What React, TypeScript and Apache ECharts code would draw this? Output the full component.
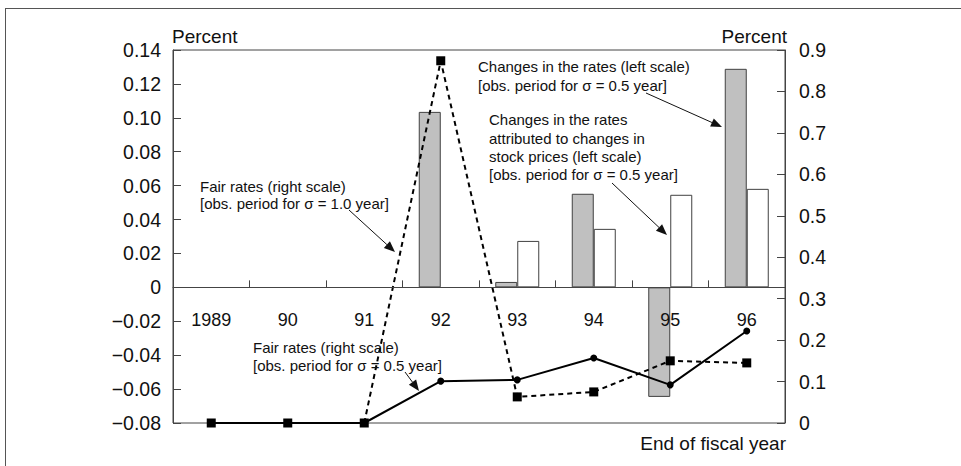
import React, { useEffect, useRef } from "react";
import * as echarts from "echarts";

const categories = ["1989", "90", "91", "92", "93", "94", "95", "96"];
// Left scale (percent)
const changesInRates = [null, null, null, 0.1035, 0.0032, 0.0552, -0.0646, 0.1289];
const changesStockPrices = [null, null, null, null, 0.0274, 0.0345, 0.0546, 0.0581];
// Right scale (percent)
const fairRatesHalfYear = [0, 0, 0, 0.101, 0.104, 0.157, 0.092, 0.222];
const fairRatesOneYear = [0, 0, 0, 0.874, 0.063, 0.075, 0.15, 0.145];

const LEFT_MIN = -0.08;
const LEFT_MAX = 0.14;

const FONT = "'Liberation Sans', Arial, sans-serif";
const INK = "#111";
const AXIS = "#444";

const GRID_TOP = 50;
const GRID_BOTTOM = 43;
const CHART_H = 466;

function arrow(x1: number, y1: number, x2: number, y2: number) {
  const dx = x2 - x1;
  const dy = y2 - y1;
  const len = Math.sqrt(dx * dx + dy * dy);
  const ux = dx / len;
  const uy = dy / len;
  const hl = 11;
  const hw = 4.5;
  const bx = x2 - ux * hl;
  const by = y2 - uy * hl;
  return [
    {
      type: "line",
      shape: { x1, y1, x2: bx, y2: by },
      style: { stroke: INK, lineWidth: 1 },
      z: 10,
    },
    {
      type: "polygon",
      shape: {
        points: [
          [x2, y2],
          [bx - uy * hw, by + ux * hw],
          [bx + uy * hw, by - ux * hw],
        ],
      },
      style: { fill: INK },
      z: 10,
    },
  ];
}

function note(x: number, yFirstCenter: number, lines: string[], lh = 18.3) {
  return {
    type: "text",
    x,
    y: yFirstCenter - lh / 2,
    z: 10,
    style: {
      text: lines.join("\n"),
      font: `15px ${FONT}`,
      fill: INK,
      lineHeight: lh,
      verticalAlign: "top",
      align: "left",
    },
  };
}

function fmtLeft(v: number) {
  const r = Math.round(v * 100) / 100;
  if (Math.abs(r) < 1e-9) return "0";
  return (r < 0 ? "\u2212" : "") + Math.abs(r).toFixed(2);
}

function fmtRight(v: number) {
  const r = Math.round(v * 10) / 10;
  if (Math.abs(r) < 1e-9) return "0";
  return r.toFixed(1);
}

export default function App() {
  const ref = useRef<HTMLDivElement>(null);

  useEffect(() => {
    document.body.style.margin = "0";
    if (!ref.current) return;
    const chart = echarts.init(ref.current, null, { renderer: "svg" });
    const toData = (a: (number | null)[]) => a.map((v) => (v === null ? "-" : v));

    const plotH = CHART_H - GRID_TOP - GRID_BOTTOM;
    const zeroFromBottom = (plotH * (0 - LEFT_MIN)) / (LEFT_MAX - LEFT_MIN);

    chart.setOption({
      animation: false,
      backgroundColor: "#fff",
      textStyle: { fontFamily: FONT },
      grid: {
        left: 173,
        right: 176,
        top: GRID_TOP,
        bottom: GRID_BOTTOM,
        show: true,
        borderColor: AXIS,
        borderWidth: 1,
        backgroundColor: "transparent",
      },
      xAxis: {
        type: "category",
        data: categories,
        z: 5,
        position: "bottom",
        offset: -zeroFromBottom,
        axisLine: { onZero: false, lineStyle: { color: AXIS, width: 1 } },
        axisTick: { show: true, inside: true, length: 7, alignWithLabel: false, lineStyle: { color: AXIS } },
        axisLabel: { color: INK, fontSize: 18, fontFamily: FONT, margin: 24, interval: 0 },
        splitLine: { show: false },
      },
      yAxis: [
        {
          type: "value",
          min: LEFT_MIN,
          max: LEFT_MAX,
          interval: 0.02,
          position: "left",
          axisLine: { show: true, lineStyle: { color: AXIS } },
          axisTick: { show: true, inside: true, length: 8, lineStyle: { color: AXIS } },
          axisLabel: { color: INK, fontSize: 19.5, fontFamily: FONT, margin: 12, formatter: fmtLeft },
          splitLine: { show: false },
        },
        {
          type: "value",
          min: 0,
          max: 0.9,
          interval: 0.1,
          position: "right",
          axisLine: { show: true, lineStyle: { color: AXIS } },
          axisTick: { show: true, inside: true, length: 8, lineStyle: { color: AXIS } },
          axisLabel: { color: INK, fontSize: 19.5, fontFamily: FONT, margin: 14, formatter: fmtRight },
          splitLine: { show: false },
        },
      ],
      series: [
        {
          name: "Changes in the rates",
          type: "bar",
          yAxisIndex: 0,
          data: toData(changesInRates),
          barWidth: 22,
          barGap: "0%",
          itemStyle: { color: "#c0c0c0", borderColor: "#404040", borderWidth: 1 },
          z: 2,
        },
        {
          name: "Changes attributed to stock prices",
          type: "bar",
          yAxisIndex: 0,
          data: toData(changesStockPrices),
          barWidth: 22,
          barGap: "0%",
          itemStyle: { color: "#ffffff", borderColor: "#404040", borderWidth: 1 },
          z: 2,
        },
        {
          name: "Fair rates 0.5 year",
          type: "line",
          yAxisIndex: 1,
          data: fairRatesHalfYear,
          symbol: "circle",
          symbolSize: 7,
          lineStyle: { color: "#000", width: 2 },
          itemStyle: { color: "#000" },
          z: 3,
        },
        {
          name: "Fair rates 1.0 year",
          type: "line",
          yAxisIndex: 1,
          data: fairRatesOneYear,
          symbol: "rect",
          symbolSize: 9,
          lineStyle: { color: "#000", width: 2, type: [5, 4] },
          itemStyle: { color: "#000" },
          z: 4,
        },
      ],
      graphic: [
        {
          type: "line",
          shape: { x1: 6, y1: 8.5, x2: 961, y2: 8.5 },
          style: { stroke: "#555", lineWidth: 1 },
        },
        {
          type: "line",
          shape: { x1: 5.5, y1: 8, x2: 5.5, y2: 466 },
          style: { stroke: "#555", lineWidth: 1 },
        },
        {
          type: "text",
          x: 172,
          y: 36,
          style: { text: "Percent", font: `19px ${FONT}`, fill: INK, align: "left", verticalAlign: "middle" },
        },
        {
          type: "text",
          x: 787,
          y: 36,
          style: { text: "Percent", font: `19px ${FONT}`, fill: INK, align: "right", verticalAlign: "middle" },
        },
        {
          type: "text",
          x: 786,
          y: 443,
          style: { text: "End of fiscal year", font: `19px ${FONT}`, fill: INK, align: "right", verticalAlign: "middle" },
        },
        note(478, 67, ["Changes in the rates (left scale)", "[obs. period for \u03c3 = 0.5 year]"]),
        note(489, 120, [
          "Changes in the rates",
          "attributed to changes in",
          "stock prices (left scale)",
          "[obs. period for \u03c3 = 0.5 year]",
        ]),
        note(200, 186, ["Fair rates (right scale)", "[obs. period for \u03c3 = 1.0 year]"], 17.5),
        note(253, 347, ["Fair rates (right scale)", "[obs. period for \u03c3 = 0.5 year]"], 18),
        ...arrow(646, 93, 722, 127),
        ...arrow(612, 183, 667, 235),
        ...arrow(349, 210, 395, 252),
        ...arrow(405, 372, 419, 391),
      ],
    });

    return () => chart.dispose();
  }, []);

  return <div ref={ref} style={{ width: 961, height: 466 }} />;
}
